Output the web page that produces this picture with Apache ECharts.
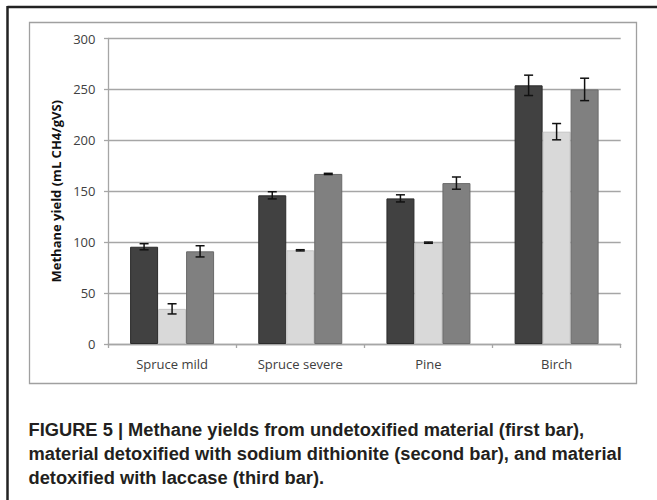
<!DOCTYPE html>
<html>
<head>
<meta charset="utf-8">
<script src="https://cdn.jsdelivr.net/npm/echarts@6/dist/echarts.min.js"></script>
<style>
html,body{margin:0;padding:0;background:#fff;}
#chart{width:657px;height:500px;}
</style>
</head>
<body>
<div id="chart"></div>
<script>
var categories = ['Spruce mild', 'Spruce severe', 'Pine', 'Birch'];
var undetoxified = [95.5, 146, 143, 254];
var dithionite = [34.5, 92, 99.5, 208.5];
var laccase = [91, 167, 158, 250];
var errUndetoxified = [3, 3.5, 3.5, 10];
var errDithionite = [5, 0.6, 0.6, 8];
var errLaccase = [5.5, 0.6, 6, 11];
var yTicks = [0, 50, 100, 150, 200, 250, 300];
var captionLines = [
  'FIGURE 5 | Methane yields from undetoxified material (first bar),',
  'material detoxified with sodium dithionite (second bar), and material',
  'detoxified with laccase (third bar).'
];

var BAR_W = 28;
var chart = echarts.init(document.getElementById('chart'), null, {renderer: 'svg'});

function errData(vals, errs) {
  return vals.map(function (v, i) { return [i, v - errs[i], v + errs[i]]; });
}
function errSeries(vals, errs, offset) {
  return {
    type: 'custom',
    z: 10,
    silent: true,
    data: errData(vals, errs),
    encode: {x: 0, y: [1, 2]},
    renderItem: function (params, api) {
      var lo = api.coord([api.value(0), api.value(1)]);
      var hi = api.coord([api.value(0), api.value(2)]);
      var x = lo[0] + offset;
      var cw = 4.5;
      var st = {stroke: '#111', lineWidth: 1.5};
      return {
        type: 'group',
        children: [
          {type: 'line', shape: {x1: x, y1: lo[1], x2: x, y2: hi[1]}, style: st},
          {type: 'line', shape: {x1: x - cw, y1: lo[1], x2: x + cw, y2: lo[1]}, style: st},
          {type: 'line', shape: {x1: x - cw, y1: hi[1], x2: x + cw, y2: hi[1]}, style: st}
        ]
      };
    }
  };
}

var labelFont = '"Open Sans", "DejaVu Sans", sans-serif';
var capFont = 'bold 18.3px "Liberation Sans", Arial, sans-serif';

var option = {
  backgroundColor: '#ffffff',
  animation: false,
  grid: {left: 108, right: 36.3, top: 38.5, bottom: 156, containLabel: false},
  xAxis: {
    type: 'category',
    data: categories,
    boundaryGap: true,
    axisLine: {show: true, lineStyle: {color: '#a6a6a6', width: 1.3}},
    axisTick: {show: true, length: 4, inside: false, lineStyle: {color: '#a6a6a6', width: 1.3}},
    axisLabel: {color: '#404040', fontSize: 13, fontFamily: labelFont, margin: 13}
  },
  yAxis: {
    type: 'value',
    min: 0,
    max: 300,
    interval: 50,
    name: 'Methane yield (mL CH4/gVS)',
    nameLocation: 'middle',
    nameGap: 43.5,
    nameRotate: 90,
    nameTextStyle: {color: '#111', fontSize: 13, fontWeight: 'bold', fontFamily: labelFont},
    axisLine: {show: true, lineStyle: {color: '#a6a6a6', width: 1.3}},
    axisTick: {show: true, length: 4, lineStyle: {color: '#a6a6a6', width: 1.3}},
    axisLabel: {color: '#404040', fontSize: 13, fontFamily: labelFont, margin: 12.5,
      formatter: function (v) { return yTicks.indexOf(v) >= 0 ? String(v) : ''; }},
    splitLine: {show: true, lineStyle: {color: '#a6a6a6', width: 1.3}}
  },
  series: [
    {type: 'bar', name: 'Undetoxified', data: undetoxified, barWidth: BAR_W, barGap: '0%',
      itemStyle: {color: '#414141', borderColor: '#2c2c2c', borderWidth: 1}},
    {type: 'bar', name: 'Sodium dithionite', data: dithionite, barWidth: BAR_W, barGap: '0%',
      itemStyle: {color: '#d9d9d9', borderColor: '#c4c4c4', borderWidth: 1}},
    {type: 'bar', name: 'Laccase', data: laccase, barWidth: BAR_W, barGap: '0%',
      itemStyle: {color: '#808080', borderColor: '#6a6a6a', borderWidth: 1}},
    errSeries(undetoxified, errUndetoxified, -BAR_W),
    errSeries(dithionite, errDithionite, 0),
    errSeries(laccase, errLaccase, BAR_W)
  ],
  graphic: [
    {type: 'line', shape: {x1: 7.5, y1: 7, x2: 657, y2: 7}, style: {stroke: '#222', lineWidth: 2.5}, silent: true},
    {type: 'line', shape: {x1: 7.5, y1: 6, x2: 7.5, y2: 500}, style: {stroke: '#222', lineWidth: 2.5}, silent: true},
    {type: 'rect', shape: {x: 29.5, y: 22.5, width: 607, height: 361}, style: {fill: 'none', stroke: '#a0a0a0', lineWidth: 1.3}, silent: true, z: -1},
    {type: 'text', left: 28.5, top: 420, silent: true,
      style: {text: captionLines[0], fill: '#231f20', font: capFont}},
    {type: 'text', left: 28.5, top: 444, silent: true,
      style: {text: captionLines[1], fill: '#231f20', font: capFont}},
    {type: 'text', left: 28.5, top: 468.5, silent: true,
      style: {text: captionLines[2], fill: '#231f20', font: capFont}}
  ]
};
chart.setOption(option);
</script>
</body>
</html>
